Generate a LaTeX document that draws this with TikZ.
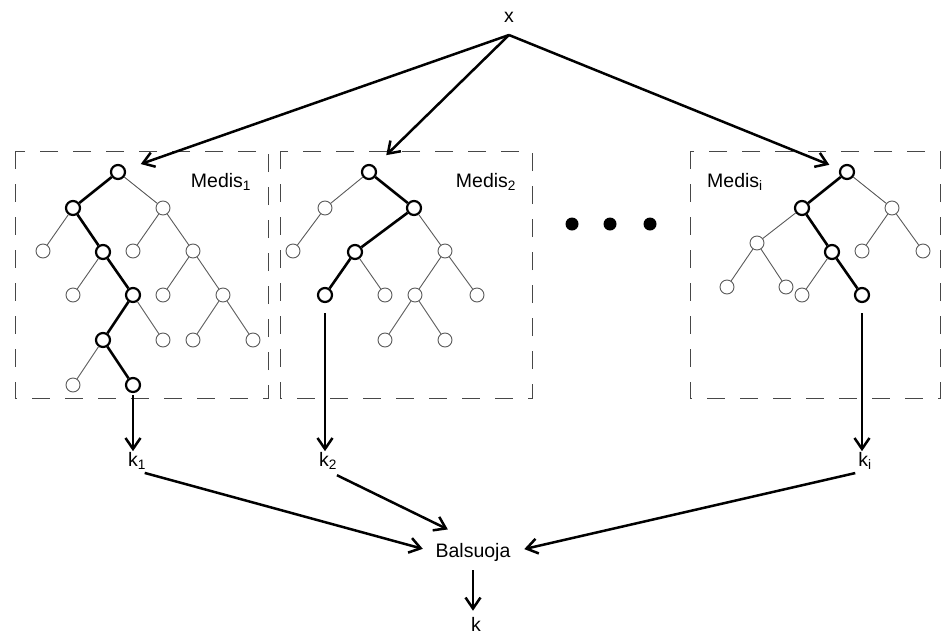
\documentclass[tikz,border=0pt]{standalone}
\usepackage{fontspec}
\setmainfont{Liberation Sans}
\usetikzlibrary{arrows.meta}
\definecolor{ink}{HTML}{000000}
\definecolor{inkgray}{HTML}{5A5A5A}
\definecolor{boxgray}{HTML}{474747}
\tikzset{
  leaf/.style={circle,draw=inkgray,fill=white,line width=0.9pt,
               minimum size=14pt,inner sep=0pt},
  pathnode/.style={leaf,draw=ink,line width=2.2pt},
  branch/.style={draw=inkgray,line width=0.9pt},
  pathedge/.style={draw=ink,line width=2.6pt},
  flowarr/.style={-{Straight Barb[length=11pt,width=15pt]},line width=2.5pt},
  medbox/.style={draw=boxgray,line width=1pt,dash pattern=on 18pt off 15pt},
  lbl/.style={font=\fontsize{19.5}{23}\selectfont,inner sep=1pt}
}

\begin{document}
\begin{tikzpicture}[x=1pt,y=-1pt]
  \useasboundingbox (0,0) rectangle (943,635);

  % the three tree frames
  \draw[medbox] (15,151) rectangle (268,398);
  \draw[medbox] (280,151) rectangle (532,398);
  \draw[medbox] (690,151) rectangle (940,398);
  \node[lbl] (m1) at (221,182) {Medis\textsubscript{1}};
  \node[lbl] (m2) at (486,182) {Medis\textsubscript{2}};
  \node[lbl] (mi) at (735,182) {Medis\textsubscript{i}};
  \foreach \x in {572,610,650} \fill[ink] (\x,224) circle (6.5pt);

  % tree nodes: name/x/y/style
  \foreach \n/\x/\y/\s in {a0/118/172/pathnode,a1/73/208/pathnode,a2/163/208/leaf,
      a3/43/251/leaf,a4/103/252/pathnode,a5/133/251/leaf,a6/193/251/leaf,
      a7/73/295/leaf,a8/133/295/pathnode,a9/163/295/leaf,a10/223/295/leaf,
      a11/103/340/pathnode,a12/163/340/leaf,a13/193/340/leaf,a14/253/340/leaf,
      a15/73/385/leaf,a16/133/385/pathnode,
      b0/369/172/pathnode,b1/325/208/leaf,b2/414/208/pathnode,
      b3/293/251/leaf,b4/355/252/pathnode,b5/445/251/leaf,
      b6/325/295/pathnode,b7/385/295/leaf,b8/415/295/leaf,b9/477/295/leaf,
      b10/385/340/leaf,b11/445/340/leaf,
      c0/847/172/pathnode,c1/802/208/pathnode,c2/892/208/leaf,
      c3/757/243/leaf,c4/832/252/pathnode,c5/862/251/leaf,c6/923/251/leaf,
      c7/727/287/leaf,c8/786/287/leaf,c9/802/295/leaf,c10/862/295/pathnode}
    \node[\s] (\n) at (\x,\y) {};

  % plain branches
  \foreach \u/\v in {a0/a2,a1/a3,a2/a5,a2/a6,a4/a7,a6/a9,a6/a10,a8/a12,
      a10/a13,a10/a14,a11/a15,
      b0/b1,b1/b3,b2/b5,b4/b7,b5/b8,b5/b9,b8/b10,b8/b11,
      c0/c2,c1/c3,c2/c5,c2/c6,c3/c7,c3/c8,c4/c9}
    \draw[branch] (\u) -- (\v);
  % decision paths
  \foreach \u/\v in {a0/a1,a1/a4,a4/a8,a8/a11,a11/a16,
      b0/b2,b2/b4,b4/b6,c0/c1,c1/c4,c4/c10}
    \draw[pathedge] (\u) -- (\v);

  % input
  \node[lbl] (x) at (509,17) {x};
  \coordinate (xin) at (509,35);
  \foreach \r/\s in {a0/16,b0/16,c0/11}
    \draw[flowarr,shorten >=\s pt] (xin) -- (\r);

  % tree outputs
  \node[lbl] (k1) at (137,461) {k\textsubscript{1}};
  \node[lbl] (k2) at (328,461) {k\textsubscript{2}};
  \node[lbl] (ki) at (865,461) {k\textsubscript{i}};
  \draw[flowarr,shorten <=2pt] (a16) -- (a16 |- k1.north);
  \draw[flowarr,shorten <=10pt] (b6) -- (b6 |- k2.north);
  \draw[flowarr,shorten <=10pt] (c10) -- (c10 |- ki.north);

  % voting
  \node[lbl] (vote) at (473,552) {Balsuoja};
  \draw[flowarr,shorten <=8pt,shorten >=12pt] (k1.south) -- (vote.west);
  \draw[flowarr,shorten <=10pt,shorten >=28pt] (k2.south) -- (vote.north);
  \draw[flowarr,shorten <=10pt,shorten >=13pt] (ki.south) -- (vote.east);
  \node[lbl] (kout) at (476,624) {k};
  \draw[flowarr,shorten <=8pt,shorten >=5pt] (vote) -- (vote |- kout.north);
\end{tikzpicture}
\end{document}
